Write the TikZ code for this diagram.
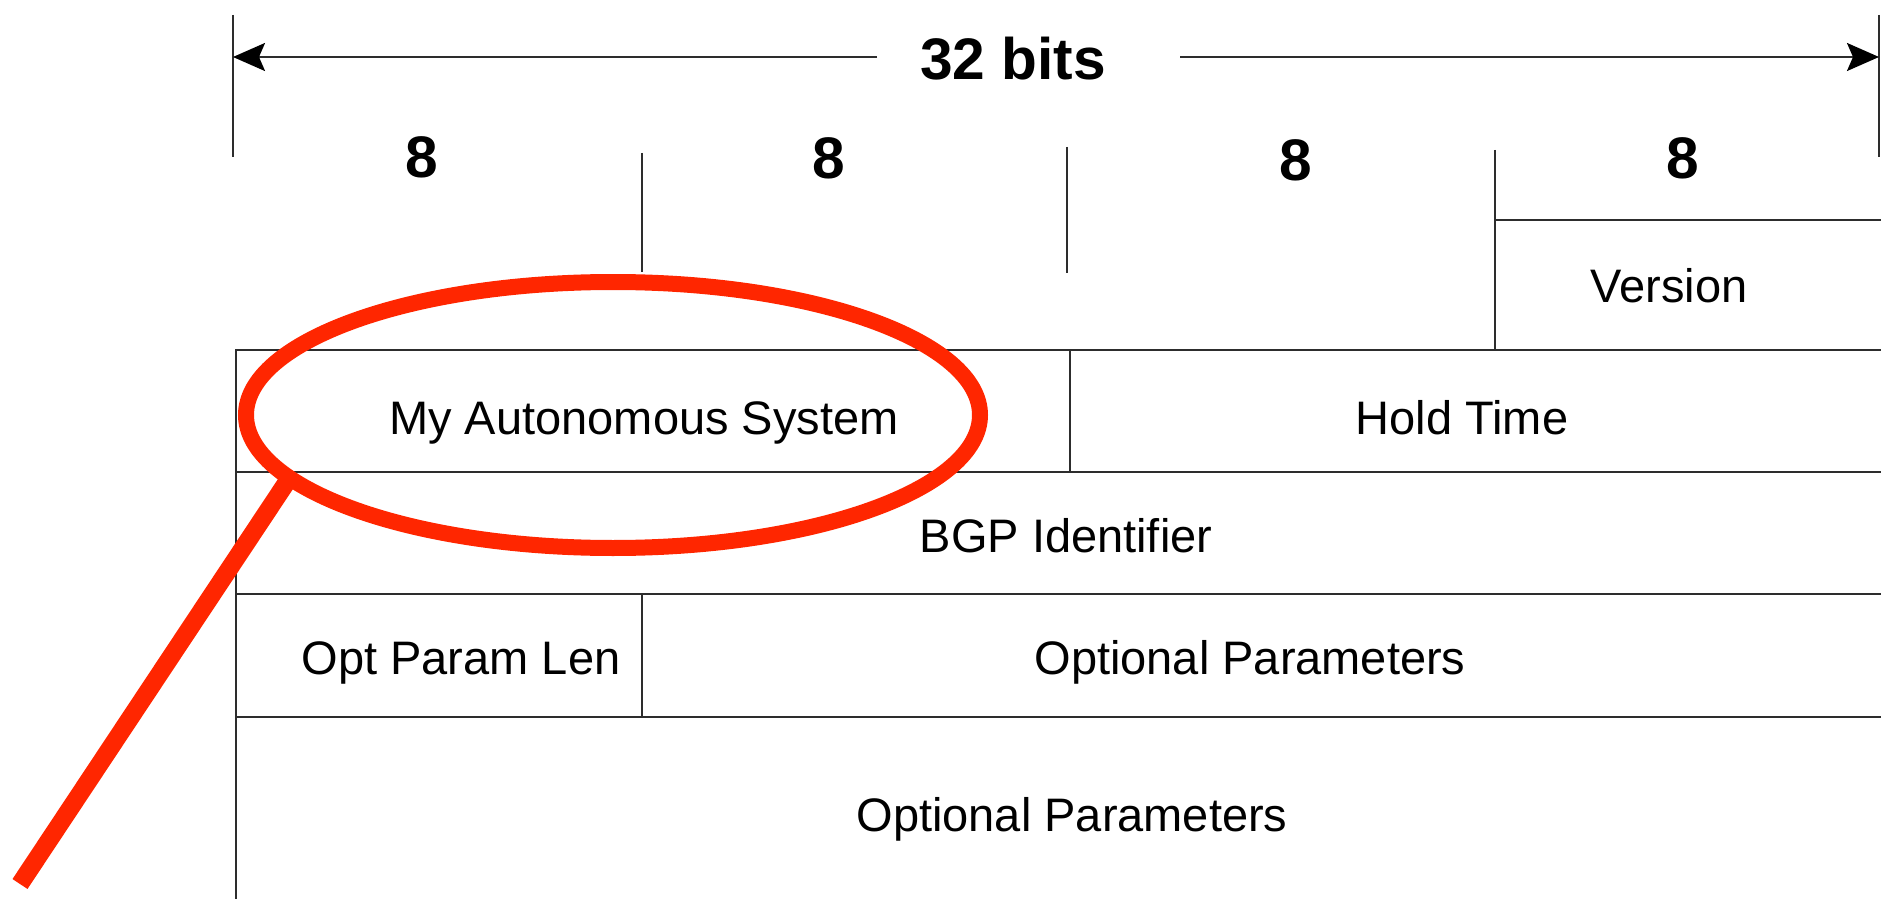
\documentclass[tikz,border=0pt]{standalone}
\usepackage{fontspec}
\setmainfont{Liberation Sans}
\usetikzlibrary{arrows.meta,shapes.geometric}
\definecolor{markred}{RGB}{255,38,0}
\definecolor{rulegray}{RGB}{45,45,45}
\begin{document}
\begin{tikzpicture}[x=0.5pt,y=-0.5pt,
  rulestyle/.style={draw=rulegray,line width=1.1pt},
  field/.style={anchor=base,inner sep=0pt,font=\fontsize{23.5}{28}\selectfont},
  bitlabel/.style={anchor=base,inner sep=0pt,font=\fontsize{29.3}{34}\selectfont\bfseries},
  tip/.style={-{Stealth[length=16pt,width=14pt,inset=3pt,black]}},
  ring/.style={ellipse,draw=markred,line width=8pt,inner sep=0pt,outer sep=0pt,
    minimum width=367pt,minimum height=133pt},
  pointer/.style={draw=markred,line width=9pt}]
\useasboundingbox (0,0) rectangle (1881,899);
\fill[white] (0,0) rectangle (1881,899);

% 32-bit width bar
\coordinate (tickLt) at (233,15);  \coordinate (tickLb) at (233,157);
\coordinate (tickRt) at (1879,15); \coordinate (tickRb) at (1879,157);
\draw[rulestyle] (tickLt) -- (tickLb);
\draw[rulestyle] (tickRt) -- (tickRb);
\node[bitlabel] (width) at (1013,80) {32 bits};
\coordinate (gapL) at (877,57);  \coordinate (endL) at (233,57);
\coordinate (gapR) at (1180,57); \coordinate (endR) at (1879,57);
\draw[rulestyle,tip] (gapL) -- (endL);
\draw[rulestyle,tip] (gapR) -- (endR);

% octet widths
\node[bitlabel] (oct1) at (422,177) {8};
\node[bitlabel] (oct2) at (829,178) {8};
\node[bitlabel] (oct3) at (1296,181) {8};
\node[bitlabel] (oct4) at (1683,178) {8};
\draw[rulestyle] (642,153) -- (642,272);
\draw[rulestyle] (1067,147) -- (1067,273);

% Version field
\draw[rulestyle] (1495,150) -- (1495,350);
\draw[rulestyle] (1495,220) -- (1881,220);
\node[field] (version) at (1669,302) {Version};

% message body
\draw[rulestyle] (236,899) -- (236,350) -- (1881,350);
\draw[rulestyle] (236,472) -- (1881,472);
\draw[rulestyle] (236,594) -- (1881,594);
\draw[rulestyle] (236,717) -- (1881,717);
\draw[rulestyle] (1070,350) -- (1070,472);
\draw[rulestyle] (642,594) -- (642,717);

\node[field] (myas) at (644,434) {My Autonomous System};
\node[field] (hold) at (1462,434) {Hold Time};
\node[field] (bgpid) at (1066,552) {BGP Identifier};
\node[field] (optlen) at (461,674) {Opt Param Len};
\node[field] (optpar) at (1250,674) {Optional Parameters};
\node[field] (optmore) at (1072,831) {Optional Parameters};

% highlight
\node[ring] (ring) at (613,415) {};
\coordinate (tail) at (20,884);
\draw[pointer] (ring.191) -- (tail);
\end{tikzpicture}
\end{document}
